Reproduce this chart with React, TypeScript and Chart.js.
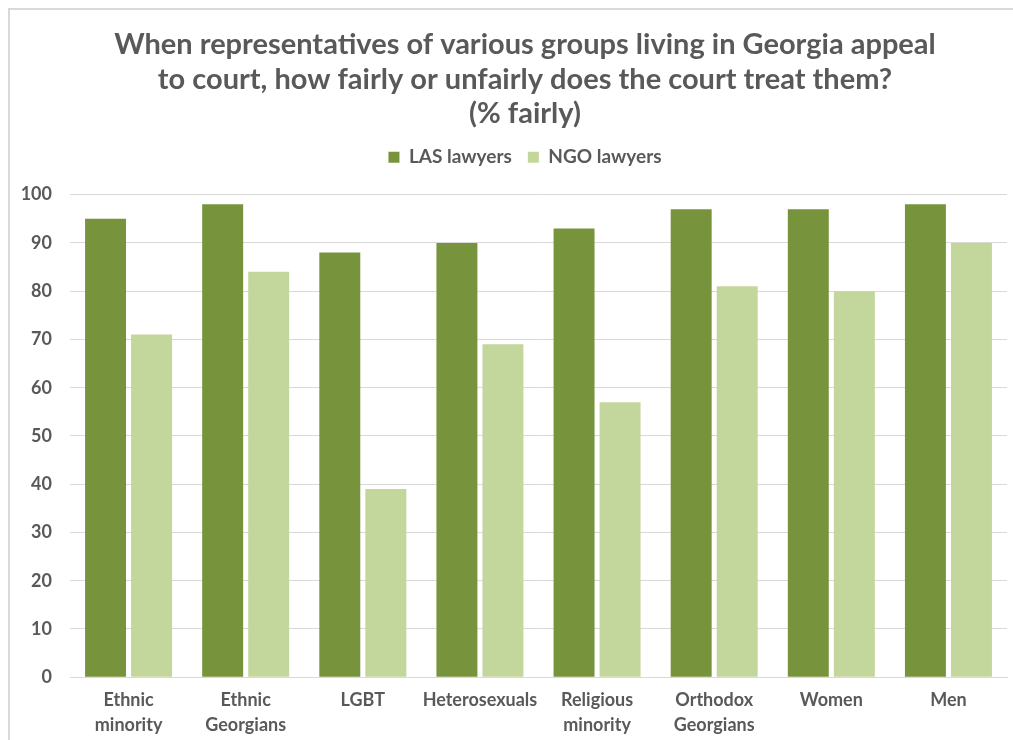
import React, { useEffect, useRef } from "react";
import { Chart, registerables } from "chart.js";

Chart.register(...registerables);

const categories: string[][] = [
  ["Ethnic", "minority"],
  ["Ethnic", "Georgians"],
  ["LGBT"],
  ["Heterosexuals"],
  ["Religious", "minority"],
  ["Orthodox", "Georgians"],
  ["Women"],
  ["Men"],
];
const lasLawyers = [95, 98, 88, 90, 93, 97, 97, 98];
const ngoLawyers = [71, 84, 39, 69, 57, 81, 80, 90];
const titleLines = [
  "When representatives of various groups living in Georgia appeal",
  "to court, how fairly or unfairly does the court treat them?",
  "(% fairly)",
];

const FONT = "Lato, 'Open Sans', sans-serif";
const GRAY = "#595959";

export default function App() {
  const ref = useRef<HTMLCanvasElement | null>(null);
  useEffect(() => {
    if (!ref.current) return;
    const chart = new Chart(ref.current, {
      type: "bar",
      data: {
        labels: categories,
        datasets: [
          {
            label: "LAS lawyers",
            data: lasLawyers,
            backgroundColor: "#77933C",
            categoryPercentage: 0.786,
            barPercentage: 0.89,
          },
          {
            label: "NGO lawyers",
            data: ngoLawyers,
            backgroundColor: "#C3D69B",
            categoryPercentage: 0.786,
            barPercentage: 0.89,
          },
        ],
      },
      options: {
        animation: false,
        responsive: false,
        maintainAspectRatio: false,
        layout: { padding: 0 },
        plugins: {
          title: {
            display: true,
            text: titleLines,
            color: GRAY,
            font: { family: FONT, size: 29, weight: "bold", lineHeight: 1.18 },
            padding: { top: 18, bottom: 1 },
          },
          subtitle: {
            display: true,
            text: " ",
            weight: 500,
            font: { family: FONT, size: 16, lineHeight: 1 },
            padding: { top: 1, bottom: 1 },
          } as any,
          legend: {
            display: true,
            position: "top",
            labels: {
              color: GRAY,
              boxWidth: 11,
              boxHeight: 11,
              padding: 16,
              font: { family: FONT, size: 19, weight: "bold" },
            },
          },
          tooltip: { enabled: false },
        },
        scales: {
          x: {
            grid: { display: false, drawTicks: false },
            border: { color: "#d9d9d9" },
            ticks: {
              color: GRAY,
              font: { family: FONT, size: 18, weight: "bold", lineHeight: 1.41 },
              maxRotation: 0,
              autoSkip: false,
              padding: 10,
            },
          },
          y: {
            min: 0,
            max: 100,
            grid: { color: "#d9d9d9", drawTicks: false },
            border: { display: false },
            afterFit: (scale: any) => {
              scale.width = 60;
            },
            ticks: {
              stepSize: 10,
              color: GRAY,
              padding: 18,
              font: { family: FONT, size: 18, weight: "bold" },
            },
          },
          spacer: {
            type: "linear",
            position: "right",
            display: true,
            grid: { display: false, drawTicks: false },
            border: { display: false },
            ticks: { display: false },
            afterFit: (scale: any) => {
              scale.width = 33;
            },
          },
        },
      },
    });
    return () => chart.destroy();
  }, []);

  return (
    <div
      style={{
        position: "fixed",
        left: 0,
        top: 0,
        width: 1013,
        height: 740,
        overflow: "hidden",
        background: "#fff",
      }}
    >
      <div
        style={{
          position: "absolute",
          left: 8,
          top: 8,
          width: 1040,
          height: 760,
          borderTop: "2px solid #d9d9d9",
          borderLeft: "2px solid #d9d9d9",
          background: "#fff",
        }}
      >
        <canvas ref={ref} width={1030} height={738} style={{ display: "block" }} />
      </div>
    </div>
  );
}
